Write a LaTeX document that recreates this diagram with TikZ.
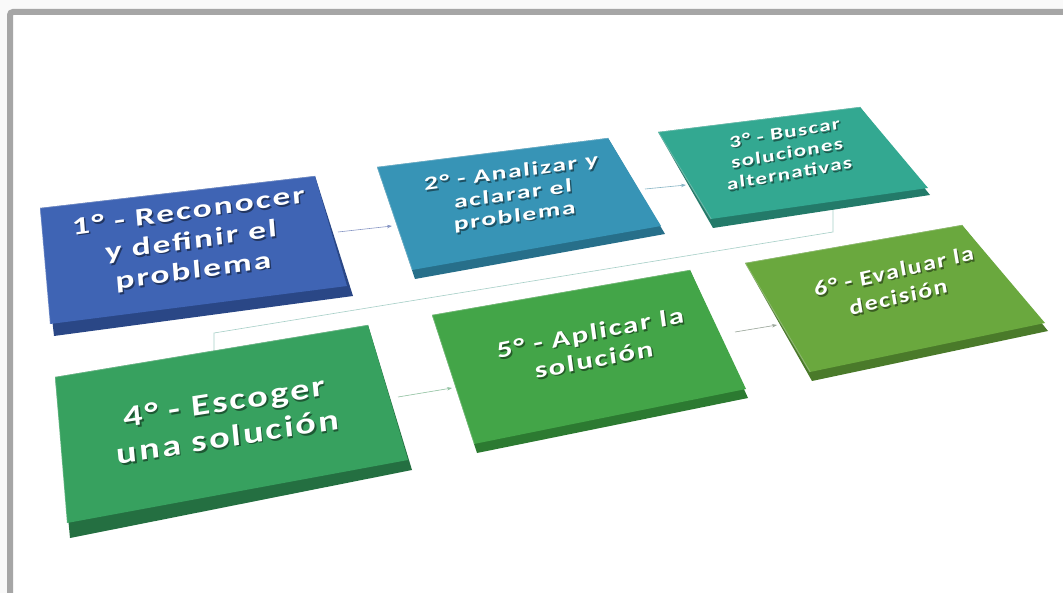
\documentclass[tikz,border=0pt]{standalone}
\usepackage{fontspec}
\newfontfamily\boxfont{Carlito}[LetterSpace=6]
\usetikzlibrary{arrows.meta,calc}
\definecolor{bgout}{HTML}{F9F9F9}
\definecolor{framegray}{HTML}{A6A6A6}
\definecolor{ca}{HTML}{3F64B4}\definecolor{cad}{HTML}{2A4786}
\definecolor{cb}{HTML}{3794B6}\definecolor{cbd}{HTML}{276F8A}
\definecolor{cc}{HTML}{33A891}\definecolor{ccd}{HTML}{237A69}
\definecolor{cd}{HTML}{37A15F}\definecolor{cdd}{HTML}{246F41}
\definecolor{ce}{HTML}{43A548}\definecolor{ced}{HTML}{2C7A31}
\definecolor{cf}{HTML}{6AA83E}\definecolor{cfd}{HTML}{4A7A2A}
\definecolor{lnab}{HTML}{8796C4}
\definecolor{lnbc}{HTML}{86B4C4}
\definecolor{lncd}{HTML}{A6CFC7}
\definecolor{lnde}{HTML}{92C2A2}
\definecolor{lnef}{HTML}{9AA69A}
\tikzset{
  steptxt/.style={text=white, align=center, inner sep=0pt},
  stepshadow/.style={text=black, opacity=0.45, align=center, inner sep=0pt},
  conn/.style={line width=0.6pt, -{Stealth[length=5pt,width=3.5pt]}},
  plainconn/.style={line width=0.6pt},
  hilite/.style={white, opacity=0.25, line width=1.2pt},
}
\newcommand\flowbox[3]{% #1 prefix, #2 face colour, #3 dark colour
  \fill[#3] (#1tl) -- (#1tr) -- (#1brr) -- (#1bll) -- cycle;
  \fill[#2] (#1tl) -- (#1tr) -- (#1br) -- (#1bl) -- cycle;
  \draw[hilite] (#1bl) -- (#1tl) -- (#1tr);
}
\newcommand\steplabel[7]{% #1 name, #2 position, #3 angle, #4 size, #5 skip, #6 xscale, #7 text
  \node[stepshadow, font=\boxfont\bfseries\fontsize{#4}{#5}\selectfont, rotate=#3, xslant=0.06, xscale=#6] (#1s) at ($#2+(1.5,1.8)$) {#7};
  \node[steptxt, font=\boxfont\bfseries\fontsize{#4}{#5}\selectfont, rotate=#3, xslant=0.06, xscale=#6] (#1) at #2 {#7};
}
\begin{document}
\begin{tikzpicture}[x=1pt,y=-1pt]
\useasboundingbox (0,0) rectangle (1063,593);
\clip (0,0) rectangle (1063,593);
\fill[bgout] (0,0) rectangle (1063,593);
\draw[framegray, line width=6pt, fill=white, rounded corners=3pt] (10,12) rectangle (1110,650);

% box corners
\coordinate (atl) at (40,208);  \coordinate (atr) at (315,176);
\coordinate (abr) at (347,286); \coordinate (abl) at (50,324);
\coordinate (abrr) at (353,296); \coordinate (abll) at (54,336);

\coordinate (btl) at (377,167); \coordinate (btr) at (608,138);
\coordinate (bbr) at (661,226); \coordinate (bbl) at (412,270);
\coordinate (bbrr) at (665,234); \coordinate (bbll) at (415,279);

\coordinate (ctl) at (658,132); \coordinate (ctr) at (860,107);
\coordinate (cbr) at (928,188); \coordinate (cbl) at (711,219);
\coordinate (cbrr) at (930,195); \coordinate (cbll) at (713,228);

\coordinate (dtl) at (55,377);  \coordinate (dtr) at (368,325);
\coordinate (dbr) at (408,460); \coordinate (dbl) at (67,523);
\coordinate (dbrr) at (412,470); \coordinate (dbll) at (70,538);

\coordinate (etl) at (432,315); \coordinate (etr) at (690,270);
\coordinate (ebr) at (746,389); \coordinate (ebl) at (474,444);
\coordinate (ebrr) at (748,398); \coordinate (ebll) at (477,453);

\coordinate (ftl) at (745,263); \coordinate (ftr) at (962,225);
\coordinate (fbr) at (1045,323); \coordinate (fbl) at (810,372);
\coordinate (fbrr) at (1048,331); \coordinate (fbll) at (812,381);

% connectors (under the boxes)
\coordinate (a-out) at (338,232);  \coordinate (b-in) at (392,226);
\coordinate (b-out) at (645,189);  \coordinate (c-in) at (686,185);
\coordinate (c-out) at (833,208);  \coordinate (k1) at (833,232);
\coordinate (k2) at (214,333);     \coordinate (d-in) at (214,352);
\coordinate (d-out) at (398,397);  \coordinate (e-in) at (452,388);
\coordinate (e-out) at (735,332);  \coordinate (f-in) at (777,325);

\draw[conn, lnab] (a-out) -- (b-in);
\draw[conn, lnbc] (b-out) -- (c-in);
\draw[plainconn, lncd] (c-out) -- (k1) -- (k2) -- (d-in);
\draw[conn, lnde] (d-out) -- (e-in);
\draw[conn, lnef] (e-out) -- (f-in);

\flowbox{a}{ca}{cad}
\flowbox{b}{cb}{cbd}
\flowbox{c}{cc}{ccd}
\flowbox{d}{cd}{cdd}
\flowbox{e}{ce}{ced}
\flowbox{f}{cf}{cfd}

\steplabel{s1}{(191,242)}{8}{25}{30}{1.42}{1° - Reconocer\\y definir el\\problema}
\steplabel{s2}{(513,195)}{8}{19}{22}{1.46}{2° - Analizar y\\aclarar el\\problema}
\steplabel{s3}{(787,153)}{10}{17}{20.5}{1.36}{3° - Buscar\\soluciones\\alternativas}
\steplabel{s4}{(226,419)}{9}{30}{35}{1.28}{4° - Escoger\\una solución}
\steplabel{s5}{(592,346)}{11}{23}{27}{1.35}{5° - Aplicar la\\solución}
\steplabel{s6}{(896,284)}{13}{21}{26}{1.24}{6° - Evaluar la\\decisión}
\end{tikzpicture}
\end{document}
